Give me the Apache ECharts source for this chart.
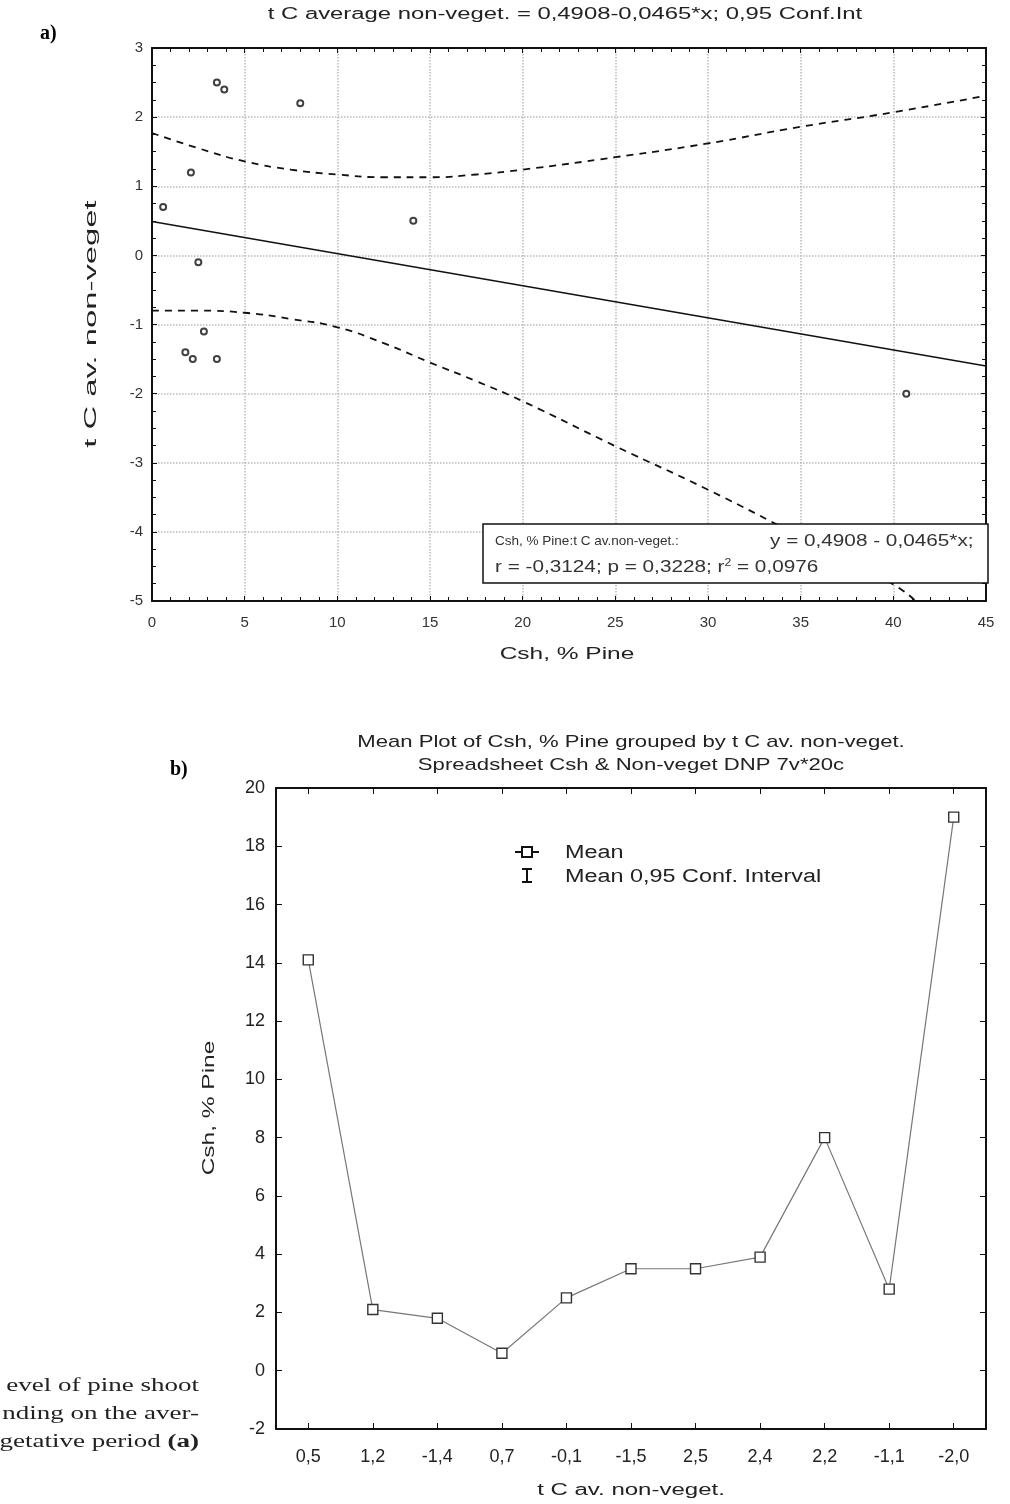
<!DOCTYPE html>
<html>
<head>
<meta charset="utf-8">
<script src="https://cdn.jsdelivr.net/npm/echarts@6/dist/echarts.min.js"></script>
<style>
  html, body { margin: 0; padding: 0; background: #fff; }
  #chart { width: 1010px; height: 1504px; }
</style>
</head>
<body>
<div id="chart"></div>
<script>
// a) scatter: Csh, % Pine vs t C av. non-veget
var scatterX = [3.5, 3.9, 8.0, 2.1, 0.6, 14.1, 2.5, 2.8, 1.8, 2.2, 3.5, 40.7];
var scatterY = [2.5, 2.4, 2.2, 1.2, 0.7, 0.5, -0.1, -1.1, -1.4, -1.5, -1.5, -2.0];
// fitted line, read at both ends
var fitX = [0, 45];
var fitY = [0.49, -1.60];
// 0,95 confidence band
var upperX = [0, 2.5, 5, 7.5, 10, 12.5, 15, 17.5, 20, 25, 30, 35, 40, 45];
var upperY = [1.77, 1.55, 1.36, 1.24, 1.17, 1.13, 1.13, 1.17, 1.24, 1.42, 1.62, 1.86, 2.07, 2.31];
var lowerX = [0, 2.5, 5, 7.5, 10, 12.5, 15, 17.5, 20, 25, 30, 35, 40, 41.2];
var lowerY = [-0.80, -0.80, -0.83, -0.92, -1.04, -1.27, -1.55, -1.82, -2.11, -2.76, -3.39, -4.07, -4.76, -5.0];

// b) mean plot
var groups = ['0,5', '1,2', '-1,4', '0,7', '-0,1', '-1,5', '2,5', '2,4', '2,2', '-1,1', '-2,0'];
var means = [14.1, 2.1, 1.8, 0.6, 2.5, 3.5, 3.5, 3.9, 8.0, 2.8, 19.0];

function pairs(xs, ys) {
    return xs.map(function (x, i) { return [x, ys[i]]; });
}

var chart = echarts.init(document.getElementById('chart'), null, { renderer: 'canvas' });

var sans = 'Liberation Sans, Arial, sans-serif';
var serif = 'Liberation Serif, Times New Roman, serif';
var ink = '#111';
var txt = '#222';

function frameAxis(extra) {
    var base = {
        axisLine: { show: true, onZero: false, lineStyle: { color: ink, width: 2 } },
        axisTick: { show: true, inside: true, length: 5, lineStyle: { color: ink, width: 1 } },
        splitLine: { show: false },
        axisLabel: { show: false }
    };
    return Object.assign(base, extra);
}

// stretched text (the reference letters are wider than the installed fonts)
function label(x, y, text, font, sx, extra) {
    var o = {
        type: 'text', x: x, y: y, scaleX: sx || 1,
        style: { text: text, font: font, fill: txt, align: 'center', verticalAlign: 'middle' }
    };
    return Object.assign(o, extra || {});
}

chart.setOption({
    animation: false,
    backgroundColor: '#fff',
    grid: [
        { left: 152, right: 24, top: 48, height: 553, outerBoundsMode: 'none' },   // a)
        { left: 276, right: 24, top: 788, height: 641, outerBoundsMode: 'none' }   // b)
    ],
    xAxis: [
        frameAxis({
            type: 'value', gridIndex: 0, position: 'bottom', min: 0, max: 45, interval: 5,
            minorTick: { show: true, splitNumber: 5, length: 4, lineStyle: { color: ink } },
            splitLine: { show: true, lineStyle: { color: '#bbb', type: 'dotted', width: 1.5 } },
            axisLabel: { show: true, fontFamily: sans, fontSize: 15, color: '#333', margin: 14 }
        }),
        frameAxis({
            type: 'value', gridIndex: 0, position: 'top', min: 0, max: 45, interval: 5,
            minorTick: { show: true, splitNumber: 5, length: 4, lineStyle: { color: ink } }
        }),
        frameAxis({
            type: 'category', gridIndex: 1, position: 'bottom', data: groups, boundaryGap: true,
            axisTick: { show: true, inside: true, alignWithLabel: true, length: 6, lineStyle: { color: ink } },
            axisLabel: { show: true, fontFamily: sans, fontSize: 18, color: txt, margin: 19 }
        }),
        frameAxis({
            type: 'category', gridIndex: 1, position: 'top', data: groups, boundaryGap: true,
            axisTick: { show: true, inside: true, alignWithLabel: true, length: 6, lineStyle: { color: ink } }
        })
    ],
    yAxis: [
        frameAxis({
            type: 'value', gridIndex: 0, position: 'left', min: -5, max: 3, interval: 1,
            minorTick: { show: true, splitNumber: 4, length: 4, lineStyle: { color: ink } },
            splitLine: { show: true, lineStyle: { color: '#bbb', type: 'dotted', width: 1.5 } },
            axisLabel: { show: true, fontFamily: sans, fontSize: 15, color: '#333', margin: 9 }
        }),
        frameAxis({
            type: 'value', gridIndex: 0, position: 'right', min: -5, max: 3, interval: 1,
            minorTick: { show: true, splitNumber: 4, length: 4, lineStyle: { color: ink } }
        }),
        frameAxis({
            type: 'value', gridIndex: 1, position: 'left', min: -2, max: 20, interval: 2,
            axisTick: { show: true, inside: true, length: 6, lineStyle: { color: ink } },
            axisLabel: { show: true, fontFamily: sans, fontSize: 18, color: txt, margin: 11 }
        }),
        frameAxis({
            type: 'value', gridIndex: 1, position: 'right', min: -2, max: 20, interval: 2,
            axisTick: { show: true, inside: true, length: 6, lineStyle: { color: ink } }
        })
    ],
    series: [
        {
            name: 'points', type: 'scatter', xAxisIndex: 0, yAxisIndex: 0,
            data: pairs(scatterX, scatterY),
            symbol: 'emptyCircle', symbolSize: 6,
            itemStyle: { color: ink, borderColor: ink, borderWidth: 1.1 }
        },
        {
            name: 'fit', type: 'line', xAxisIndex: 0, yAxisIndex: 0,
            data: pairs(fitX, fitY), showSymbol: false,
            lineStyle: { color: ink, width: 1.5 }
        },
        {
            name: 'upper', type: 'line', xAxisIndex: 0, yAxisIndex: 0,
            data: pairs(upperX, upperY), showSymbol: false, smooth: true,
            lineStyle: { color: ink, width: 1.8, type: [7, 6] }
        },
        {
            name: 'lower', type: 'line', xAxisIndex: 0, yAxisIndex: 0,
            data: pairs(lowerX, lowerY), showSymbol: false, smooth: true,
            lineStyle: { color: ink, width: 1.8, type: [7, 6] }
        },
        {
            name: 'Mean', type: 'line', xAxisIndex: 2, yAxisIndex: 2,
            data: means, symbol: 'rect', symbolSize: 10,
            lineStyle: { color: '#777', width: 1.2 },
            itemStyle: { color: '#fff', borderColor: '#333', borderWidth: 1.4 }
        }
    ],
    graphic: [
        // a) texts
        label(565, 15, 't C average non-veget. = 0,4908-0,0465*x; 0,95 Conf.Int', '16px ' + sans, 1.49),
        label(567, 655, 'Csh, % Pine', '16px ' + sans, 1.53),
        label(92, 324, 't C av. non-veget', '16px ' + sans, 2.05, { rotation: Math.PI / 2 }),
        { type: 'text', x: 40, y: 24, style: { text: 'a)', font: 'bold 20px ' + serif, fill: '#000' } },
        // regression box, drawn over the dashed band
        {
            type: 'group', x: 483, y: 524, z: 100, children: [
                { type: 'rect', z: 100, shape: { x: 0, y: 0, width: 505, height: 59 }, style: { fill: '#fff', stroke: ink, lineWidth: 1.5 } },
                { type: 'text', z: 101, x: 12, y: 17, scaleX: 1.04, style: { text: 'Csh, % Pine:t C av.non-veget.:', font: '13px ' + sans, fill: '#333', verticalAlign: 'middle' } },
                { type: 'text', z: 101, x: 287, y: 17, scaleX: 1.22, style: { text: 'y = 0,4908 - 0,0465*x;', font: '17px ' + sans, fill: '#333', verticalAlign: 'middle' } },
                {
                    type: 'text', z: 101, x: 12, y: 43, scaleX: 1.22, style: {
                        text: '{n|r = -0,3124; p = 0,3228; r}{sup|2}{n| = 0,0976}', verticalAlign: 'middle',
                        rich: {
                            n: { font: '17px ' + sans, fill: '#333' },
                            sup: { font: '10px ' + sans, fill: '#333', verticalAlign: 'top', padding: [0, 0, 7, 0] }
                        }
                    }
                }
            ]
        },
        // b) texts
        label(631, 742, 'Mean Plot of Csh, % Pine grouped by t C av. non-veget.', '17px ' + sans, 1.3),
        label(631, 765, 'Spreadsheet Csh & Non-veget DNP 7v*20c', '17px ' + sans, 1.3),
        label(631, 1491, 't C av. non-veget.', '16px ' + sans, 1.5),
        label(210, 1108, 'Csh, % Pine', '16px ' + sans, 1.53, { rotation: Math.PI / 2 }),
        { type: 'text', x: 170, y: 760, style: { text: 'b)', font: 'bold 20px ' + serif, fill: '#000' } },
        // b) legend
        {
            type: 'group', x: 515, y: 844, children: [
                { type: 'line', shape: { x1: 0, y1: 8, x2: 7, y2: 8 }, style: { stroke: ink, lineWidth: 2 } },
                { type: 'rect', shape: { x: 7, y: 3, width: 10, height: 10 }, style: { fill: '#fff', stroke: ink, lineWidth: 2 } },
                { type: 'line', shape: { x1: 17, y1: 8, x2: 24, y2: 8 }, style: { stroke: ink, lineWidth: 2 } },
                { type: 'line', shape: { x1: 12, y1: 25, x2: 12, y2: 38 }, style: { stroke: ink, lineWidth: 2 } },
                { type: 'line', shape: { x1: 7, y1: 25, x2: 17, y2: 25 }, style: { stroke: ink, lineWidth: 2 } },
                { type: 'line', shape: { x1: 7, y1: 38, x2: 17, y2: 38 }, style: { stroke: ink, lineWidth: 2 } }
            ]
        },
        { type: 'text', x: 565, y: 853, scaleX: 1.3, style: { text: 'Mean', font: '18px ' + sans, fill: txt, verticalAlign: 'middle' } },
        { type: 'text', x: 565, y: 877, scaleX: 1.3, style: { text: 'Mean 0,95 Conf. Interval', font: '18px ' + sans, fill: txt, verticalAlign: 'middle' } },
        // caption fragment at the left edge
        { type: 'text', x: 199, y: 1386, scaleX: 1.5, style: { text: 'evel of pine shoot', font: '18px ' + serif, fill: txt, align: 'right', verticalAlign: 'middle' } },
        { type: 'text', x: 199, y: 1414, scaleX: 1.5, style: { text: 'nding on the aver-', font: '18px ' + serif, fill: txt, align: 'right', verticalAlign: 'middle' } },
        {
            type: 'text', x: 199, y: 1442, scaleX: 1.5, style: {
                text: '{n|egetative period }{b|(a)}', align: 'right', verticalAlign: 'middle',
                rich: { n: { font: '18px ' + serif, fill: txt }, b: { font: 'bold 18px ' + serif, fill: txt } }
            }
        }
    ]
});
</script>
</body>
</html>
